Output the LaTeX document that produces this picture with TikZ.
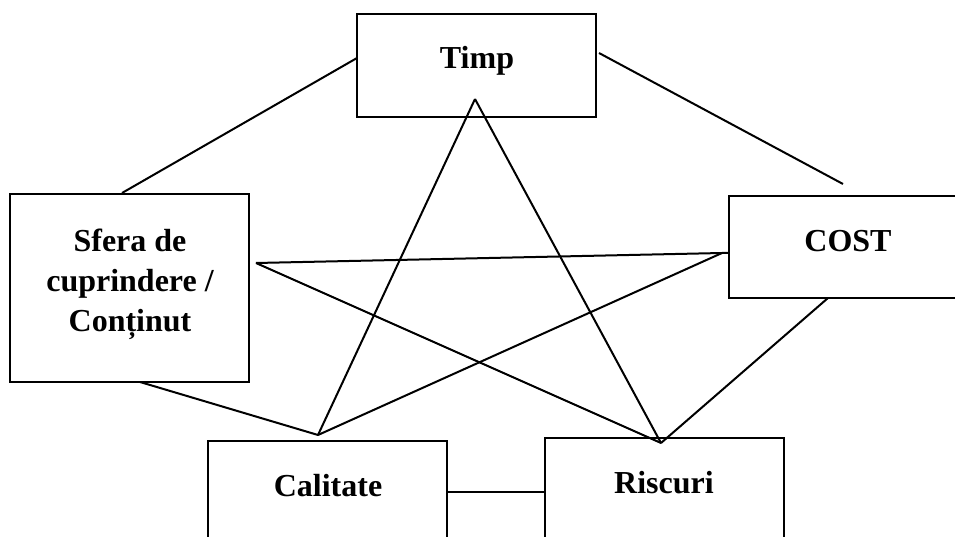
\documentclass[tikz,border=0pt]{standalone}
\usepackage{fontspec}
\setmainfont{Liberation Serif}
\begin{document}
\begin{tikzpicture}[x=1pt,y=-1pt,
  box/.style={draw,line width=2pt,rectangle,minimum width=239pt,inner sep=0pt},
  lbl/.style={font=\bfseries\fontsize{32}{40}\selectfont,align=center,inner sep=0pt},
  link/.style={line width=2pt}]
\useasboundingbox (0,0) rectangle (955,537);
\clip (0,0) rectangle (955,537);
% boxes
\node[box,minimum height=103pt] (timp) at (476.5,65.5) {};
\node[box,minimum height=188pt] (sfera) at (129.5,288) {};
\node[box,minimum height=102pt] (cost) at (848.5,247) {};
\node[box,minimum height=130pt] (calitate) at (327.5,506) {};
\node[box,minimum height=130pt] (riscuri) at (664.5,503) {};
% labels
\node[lbl] (timpT) at (477,61) {Timp};
\node[lbl] (sferaT) at (130,284) {Sfera de\\cuprindere /\\Conținut};
\node[lbl] (costT) at (848,241) {COST};
\node[lbl] (calitateT) at (328,486) {Calitate};
\node[lbl] (riscuriT) at (664,483) {Riscuri};
% connector ends
\coordinate (tL) at (357,58);
\coordinate (tR) at (599,53);
\coordinate (tApex) at (475,99);
\coordinate (sTop) at (122,193);
\coordinate (sR) at (256,263);
\coordinate (sBot) at (140,382);
\coordinate (cTop) at (843,184);
\coordinate (cL) at (722,253);
\coordinate (cBot) at (828,298);
\coordinate (qApex) at (318,435);
\coordinate (rApex) at (661,443);
\coordinate (qR) at (447,492);
\coordinate (rL) at (545,492);
% connectors
\draw[link] (tL) -- (sTop);
\draw[link] (tR) -- (cTop);
\draw[link] (tApex) -- (qApex);
\draw[link] (tApex) -- (rApex);
\draw[link] (sR) -- (cL) -- (cost.west |- cL);
\draw[link] (sR) -- (rApex);
\draw[link] (cL) -- (qApex);
\draw[link] (sBot) -- (qApex);
\draw[link] (cBot) -- (rApex);
\draw[link] (qR) -- (rL);
\end{tikzpicture}
\end{document}
